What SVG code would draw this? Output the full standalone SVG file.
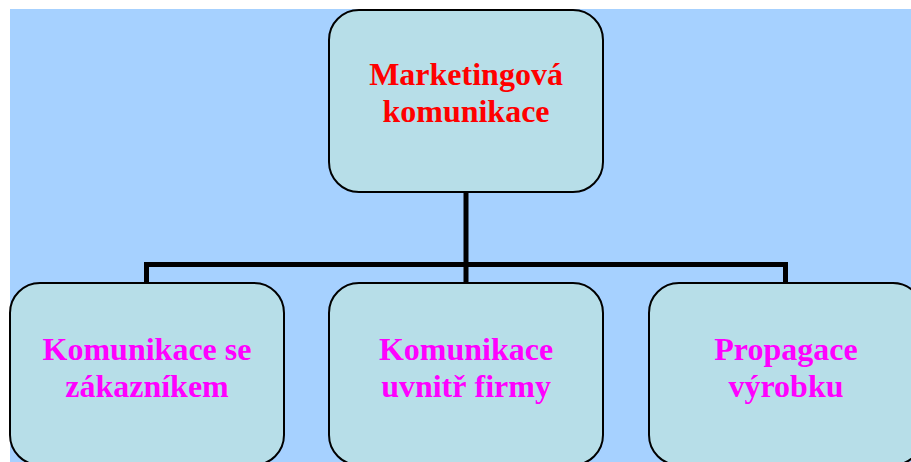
<svg xmlns="http://www.w3.org/2000/svg" width="911" height="462" viewBox="0 0 911 462">
<style>
.node{fill:#B7DEE8;stroke:#000;stroke-width:2}
.t{font-family:"Liberation Serif","Times New Roman",serif;font-weight:bold;font-size:32px;text-anchor:middle}
.red{fill:#FF0000}
.mag{fill:#FF00FF}
.conn{fill:none;stroke:#000;stroke-width:5}
</style>
<rect x="0" y="0" width="911" height="462" fill="#FFFFFF"/>
<rect x="10" y="9" width="901" height="453" fill="#A6D1FF"/>
<g id="connectors">
<line class="conn" x1="466" y1="192" x2="466" y2="284"/>
<polyline class="conn" points="146.5,284 146.5,264.5 785.5,264.5 785.5,284"/>
</g>
<g id="node-top">
<rect class="node" x="329" y="10" width="274" height="182" rx="30" ry="30"/>
<text class="t red" x="466" y="85">Marketingová</text>
<text class="t red" x="466" y="122">komunikace</text>
</g>
<g id="node-left">
<rect class="node" x="10" y="283" width="274" height="182" rx="30" ry="30"/>
<text class="t mag" x="147" y="360">Komunikace se</text>
<text class="t mag" x="147" y="397">zákazníkem</text>
</g>
<g id="node-middle">
<rect class="node" x="329" y="283" width="274" height="182" rx="30" ry="30"/>
<text class="t mag" x="466" y="360">Komunikace</text>
<text class="t mag" x="466" y="397">uvnitř firmy</text>
</g>
<g id="node-right">
<rect class="node" x="649" y="283" width="274" height="182" rx="30" ry="30"/>
<text class="t mag" x="786" y="360">Propagace</text>
<text class="t mag" x="786" y="397">výrobku</text>
</g>
</svg>
